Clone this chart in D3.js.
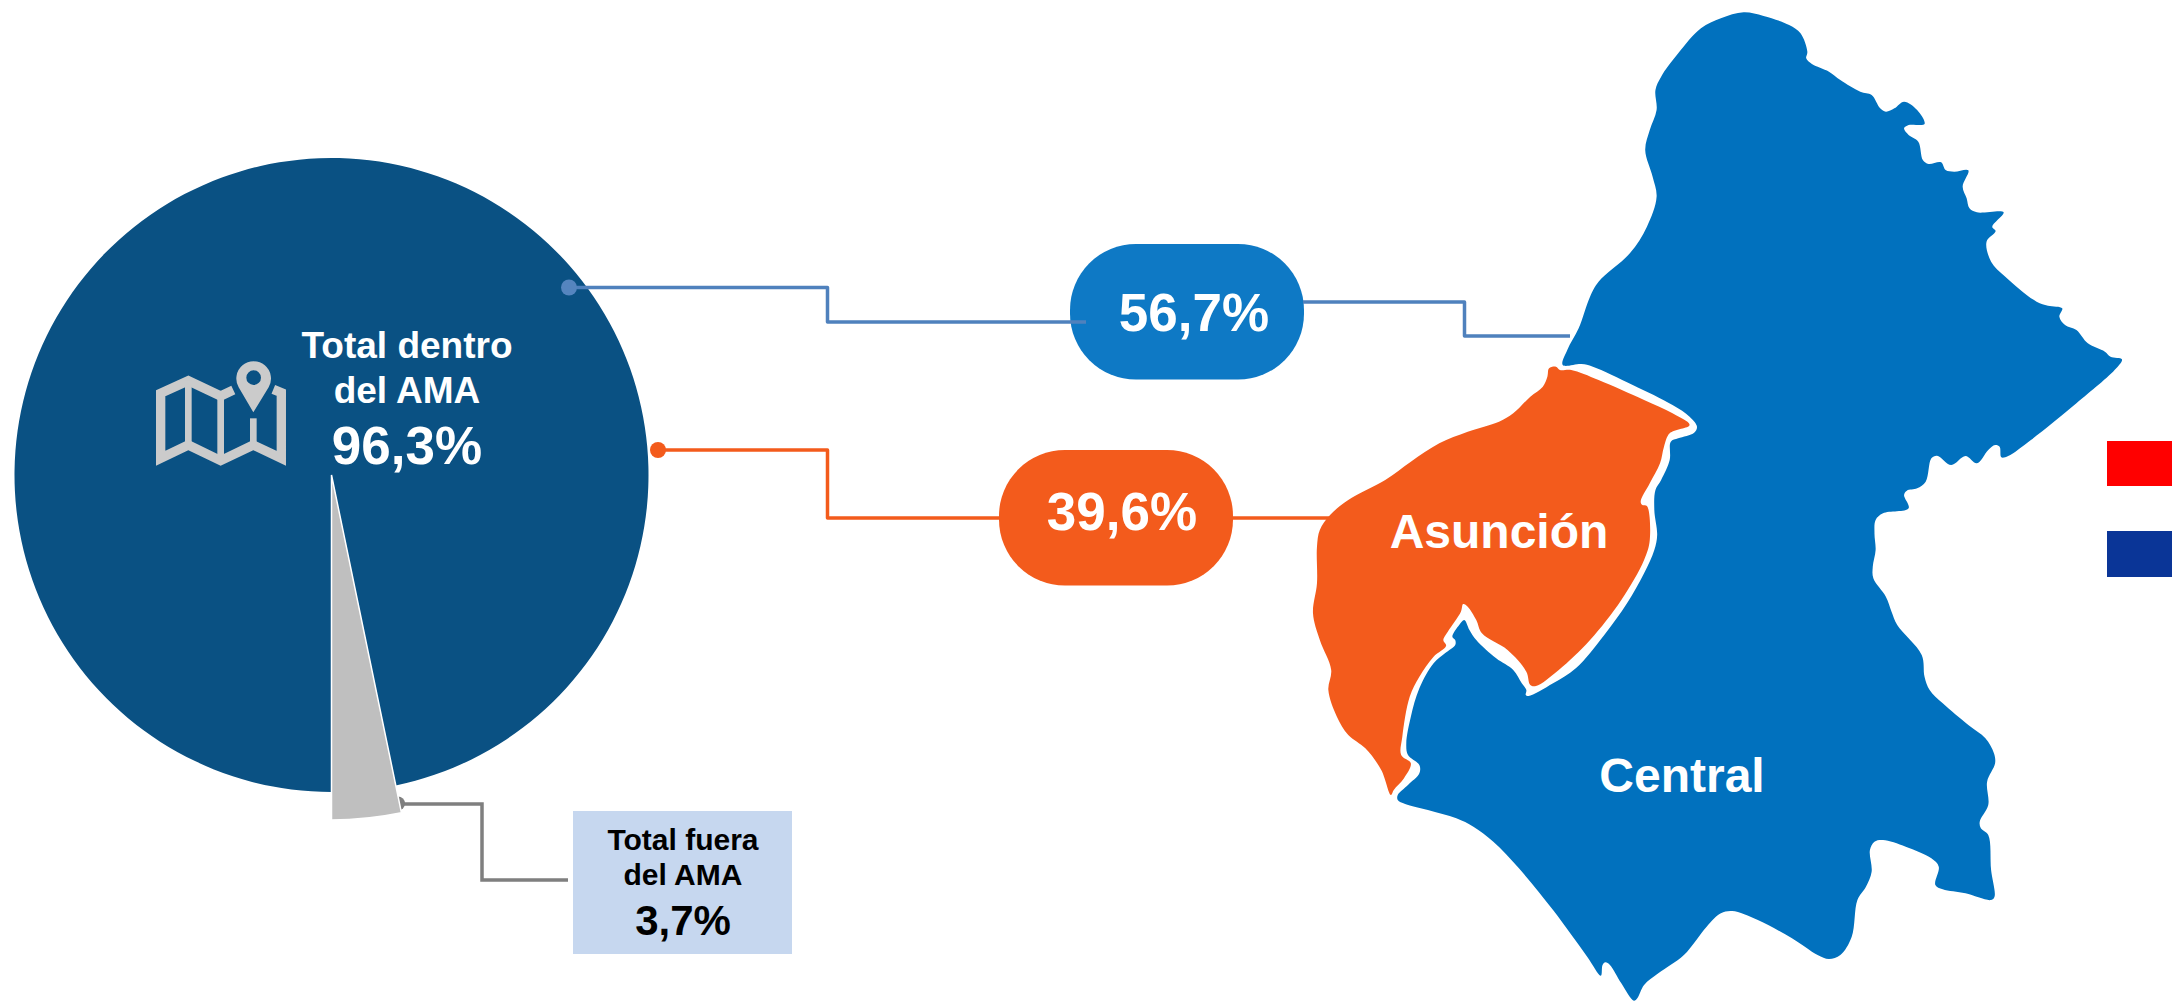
<!DOCTYPE html>
<html lang="es">
<head>
    <meta charset="UTF-8">
    <title>Total dentro y fuera del AMA</title>
    <script src="https://d3js.org/d3.v7.min.js"></script>
    <style>
        html, body { margin: 0; padding: 0; background: #fff; overflow: hidden; }
        svg { display: block; }
        text { font-family: "Liberation Sans", Arial, sans-serif; font-weight: bold; text-anchor: middle; }
    </style>
</head>
<body>
<div id="container"></div>
<script>
    // labels as printed in the chart
    const pieCategories = ['Total dentro del AMA', 'Total fuera del AMA'];
    const pieLabels = ['96,3%', '3,7%'];
    // wedge sizes measured on the picture: it draws the grey wedge a bit narrower than its 3,7% label
    const pieDrawnShares = [96.75, 3.25];
    const pieColors = ['#0a5183', '#bfbfbf'];

    const departments = ['Central', 'Asunción'];
    const departmentShares = ['56,7%', '39,6%'];
    const departmentColors = ['#0171be', '#f35b1c'];

    // map outline, in trace units (see scales below)
    const centralNorth = [[497,1095],[505,1050],[525,985],[545,890],[560,845],[615,760],[645,680],[662,590],[655,530],[642,450],[650,390],[662,330],[660,270],[670,230],[700,160],[740,85],[775,55],[815,37],[850,48],[895,75],[915,100],[927,155],[925,175],[935,192],[965,215],[985,240],[1020,275],[1040,285],[1055,325],[1065,335],[1080,325],[1097,305],[1120,330],[1133,372],[1105,375],[1097,385],[1105,405],[1122,425],[1130,480],[1140,492],[1162,487],[1170,510],[1185,515],[1210,511],[1200,560],[1207,595],[1212,625],[1225,637],[1272,637],[1252,680],[1258,693],[1242,725],[1250,785],[1275,830],[1330,905],[1350,917],[1375,925],[1370,950],[1380,975],[1400,990],[1420,1030],[1450,1055],[1460,1070],[1480,1078],[1470,1105],[1400,1210],[1320,1320],[1280,1368],[1268,1372],[1265,1340],[1257,1335],[1245,1350],[1225,1390],[1205,1368],[1180,1395],[1155,1367],[1145,1375],[1135,1445],[1120,1465]];
    const centralSouth = [[1102,32],[1097,45],[1105,85],[1060,100],[1047,120],[1045,160],[1047,210],[1042,260],[1043,295],[1065,350],[1075,395],[1085,435],[1128,525],[1133,590],[1142,630],[1165,670],[1210,735],[1240,775],[1255,820],[1257,850],[1243,905],[1245,975],[1230,1025],[1232,1045],[1245,1065],[1250,1170],[1256,1250],[1250,1260],[1205,1240],[1165,1228],[1152,1215],[1158,1160],[1145,1135],[1100,1100],[1060,1080],[1045,1085],[1037,1110],[1040,1175],[1030,1220],[1015,1260],[1005,1370],[985,1425],[965,1437],[945,1425],[900,1375],[840,1320],[795,1293],[775,1300],[750,1340],[710,1425],[665,1480],[640,1515],[628,1555],[622,1562],[600,1510],[580,1455],[572,1447],[567,1455],[564,1487],[540,1430],[480,1290],[420,1165],[375,1085],[340,1040],[310,1015],[260,990],[220,972],[207,960],[207,945],[225,915],[245,880],[245,855],[225,825],[222,790],[230,710],[245,625],[270,550],[290,520],[308,495],[308,480],[303,470],[315,435],[324,420],[333,450],[345,480],[380,535],[410,570],[425,610],[433,630],[432,645],[437,648],[480,610],[520,565],[570,465],[610,370],[640,280],[658,210],[663,165],[658,90],[660,30]];
    const centralNeck = [[670,1440],[685,1380],[687,1325],[700,1315],[728,1298],[733,1280],[720,1250],[690,1215],[620,1155],[550,1100],[530,1092]];
    const asuncionNorth = [[185,1440],[230,1385],[280,1330],[330,1295],[385,1265],[410,1240],[440,1190],[462,1160],[470,1130],[473,1105],[485,1100],[492,1110],[512,1110],[560,1140],[640,1200],[690,1240],[720,1275],[685,1300],[675,1340],[668,1390],[650,1450]];
    const asuncionSouth = [[634,65],[637,75],[645,78],[650,180],[640,240],[600,360],[545,480],[490,570],[450,618],[440,615],[433,575],[400,510],[355,460],[345,420],[330,380],[322,372],[318,395],[295,455],[287,480],[292,497],[270,530],[245,590],[228,650],[215,770],[213,825],[230,850],[218,895],[200,930],[195,945],[178,870],[150,805],[120,765],[100,710],[85,630],[90,570],[70,480],[58,400],[65,310],[65,200],[70,150],[88,105],[120,60]];

    const width = 2172;
    const height = 1001;

    const svg = d3.select('#container').append('svg')
        .attr('width', width)
        .attr('height', height);

    //scales for the traced outlines
    const traceX = d3.scaleLinear().domain([0, 1568]).range([1280, 2172]);
    const traceNorthY = d3.scaleLinear().domain([0, 1500]).range([0, 500]);
    const traceSouthY = d3.scaleLinear().domain([0, 1563]).range([480, 1001]);
    const north = p => [traceX(p[0]), traceNorthY(p[1])];
    const south = p => [traceX(p[0]), traceSouthY(p[1])];

    const mapLine = d3.line().curve(d3.curveCatmullRomClosed.alpha(0.5));

    const centralPoints = centralNorth.map(north).concat(centralSouth.map(south), centralNeck.map(north));
    const asuncionPoints = asuncionNorth.map(north).concat(asuncionSouth.map(south));

    svg.selectAll('path.department')
        .data([centralPoints, asuncionPoints])
        .enter()
        .append('path')
        .attr('class', 'department')
        .attr('d', mapLine)
        .attr('fill', (d, i) => departmentColors[i]);

    //pie, starts at the bottom and runs clockwise
    const pieX = 331.5;
    const pieY = 475;
    const pie = d3.pie().sort(null).startAngle(Math.PI).endAngle(3 * Math.PI);
    const pieSlices = pie(pieDrawnShares);
    const outerRadius = [317, 345];
    const arc = d3.arc().innerRadius(0);

    const leader = d3.line();

    const drawLeaders = function(paths, color) {
        svg.selectAll(null)
            .data(paths)
            .enter()
            .append('path')
            .attr('d', leader)
            .attr('fill', 'none')
            .attr('stroke', color)
            .attr('stroke-width', 3.5)
            .attr('stroke-linejoin', 'round');
    };

    const drawDot = function(x, y, r, color) {
        svg.append('circle')
            .attr('cx', x)
            .attr('cy', y)
            .attr('r', r)
            .attr('fill', color);
    };

    svg.selectAll('path.slice')
        .data(pieSlices)
        .enter()
        .append('path')
        .attr('class', 'slice')
        .attr('transform', `translate(${pieX},${pieY})`)
        .attr('d', (d, i) => arc.outerRadius(outerRadius[i])(d))
        .attr('fill', (d, i) => pieColors[i])
        .attr('stroke', (d, i) => i == 1 ? '#fff' : 'none')
        .attr('stroke-width', 1.5);

    //grey leader and its dot stick out from behind the wedge edge
    const greyLeader = svg.insert('g', 'path.slice');
    greyLeader.append('path')
        .attr('d', leader([[398, 804], [482, 804], [482, 880], [568, 880]]))
        .attr('fill', 'none')
        .attr('stroke', '#7f7f7f')
        .attr('stroke-width', 3.5);
    greyLeader.append('circle')
        .attr('cx', 398)
        .attr('cy', 803.5)
        .attr('r', 7)
        .attr('fill', '#7f7f7f');

    //percentage pills
    const pills = [
        { x: 1070, y: 244, fill: '#0e79c5', label: departmentShares[0], tx: 1194, ty: 331 },
        { x: 999, y: 450, fill: '#f35b1c', label: departmentShares[1], tx: 1122, ty: 530 }
    ];

    svg.selectAll('rect.pill')
        .data(pills)
        .enter()
        .append('rect')
        .attr('class', 'pill')
        .attr('x', d => d.x)
        .attr('y', d => d.y)
        .attr('width', 234)
        .attr('height', 135.5)
        .attr('rx', 66)
        .attr('fill', d => d.fill);

    //blue and orange leaders sit on top of the pie and pills
    drawLeaders([[[569, 287.5], [827.5, 287.5], [827.5, 322], [1086, 322]], [[1303, 302], [1464.5, 302], [1464.5, 336], [1570, 336]]], '#4f81bd');
    drawDot(569, 287.5, 8, '#5585bf');
    drawLeaders([[[658, 450], [827.5, 450], [827.5, 518], [1000, 518]], [[1232, 518], [1335, 518]]], '#f35b1c');
    drawDot(658, 450, 8, '#f35b1c');

    //box for the outside share
    svg.append('rect')
        .attr('x', 573).attr('y', 811)
        .attr('width', 219).attr('height', 143)
        .attr('fill', '#c6d7ef');

    //cropped legend swatches on the right edge
    svg.selectAll('rect.swatch')
        .data([{ y: 441, h: 45, fill: '#ff0000' }, { y: 531, h: 46, fill: '#0a3597' }])
        .enter()
        .append('rect')
        .attr('class', 'swatch')
        .attr('x', 2107)
        .attr('y', d => d.y)
        .attr('width', 65)
        .attr('height', d => d.h)
        .attr('fill', d => d.fill);

    //folded map icon, drawn in zoom units
    const icon = svg.append('g').attr('transform', 'translate(130,310) scale(0.3333)');
    const iconLines = [
        { pts: [[310,240],[272,258],[175,212],[92,250],[92,445],[175,405],[272,452],[370,405],[454,445],[454,248],[430,238]], w: 28 },
        { pts: [[175,212],[175,405]], w: 20 },
        { pts: [[272,258],[272,452]], w: 20 },
        { pts: [[370,325],[370,405]], w: 20 }
    ];
    icon.selectAll('path.fold')
        .data(iconLines)
        .enter()
        .append('path')
        .attr('class', 'fold')
        .attr('d', d => leader(d.pts))
        .attr('fill', 'none')
        .attr('stroke', '#cbcbcb')
        .attr('stroke-width', d => d.w);
    icon.append('path')
        .attr('d', 'M370 307 L326 232 A52 52 0 1 1 416 232 Z M371 181 A22 22 0 1 0 371 225 A22 22 0 1 0 371 181 Z')
        .attr('fill', '#cbcbcb')
        .attr('fill-rule', 'evenodd');

    //all the text
    const labels = [
        { text: 'Total dentro', x: 407, y: 358, size: 37, fill: '#fff' },
        { text: 'del AMA', x: 407, y: 403, size: 37, fill: '#fff' },
        { text: pieLabels[0], x: 407, y: 464, size: 53, fill: '#fff' },
        { text: 'Total fuera', x: 683, y: 850, size: 30, fill: '#000' },
        { text: 'del AMA', x: 683, y: 885, size: 30, fill: '#000' },
        { text: pieLabels[1], x: 683, y: 935, size: 42, fill: '#000' },
        { text: pills[0].label, x: pills[0].tx, y: pills[0].ty, size: 53, fill: '#fff' },
        { text: pills[1].label, x: pills[1].tx, y: pills[1].ty, size: 53, fill: '#fff' },
        { text: departments[1], x: 1499, y: 548, size: 48, fill: '#fff' },
        { text: departments[0], x: 1682, y: 792, size: 48, fill: '#fff' }
    ];

    svg.selectAll('text')
        .data(labels)
        .enter()
        .append('text')
        .attr('x', d => d.x)
        .attr('y', d => d.y)
        .attr('font-size', d => d.size)
        .attr('fill', d => d.fill)
        .text(d => d.text);
</script>
</body>
</html>
